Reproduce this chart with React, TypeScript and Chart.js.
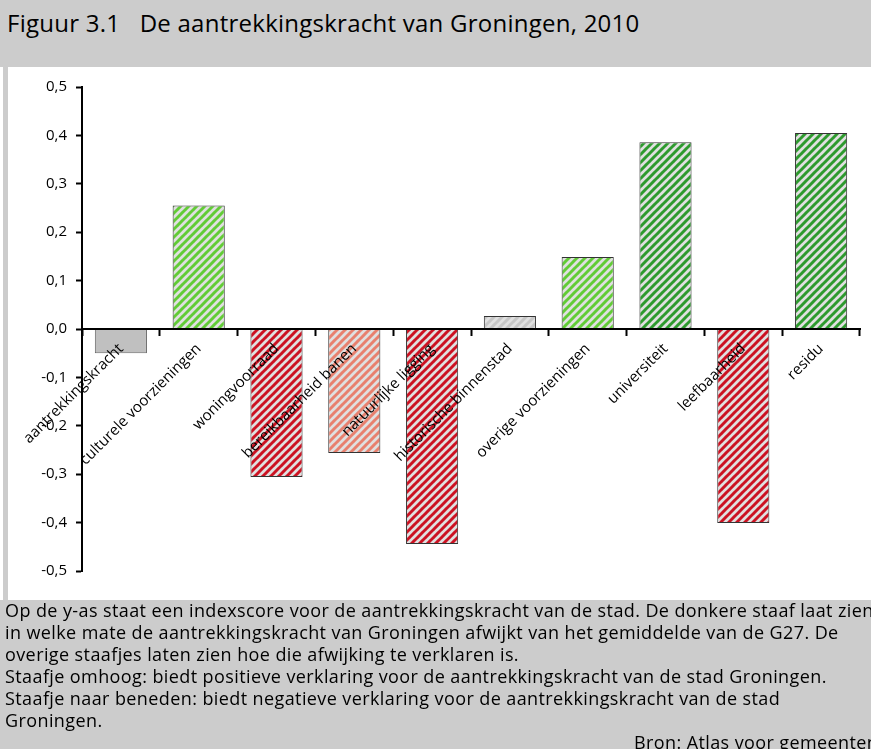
import React, { useEffect, useRef } from 'react';
import { Chart, registerables } from 'chart.js';

Chart.register(...registerables);

const categories = [
  'aantrekkingskracht',
  'culturele voorzieningen',
  'woningvoorraad',
  'bereikbaarheid banen',
  'natuurlijke ligging',
  'historische binnenstad',
  'overige voorzieningen',
  'universiteit',
  'leefbaarheid',
  'residu',
];

const values = [-0.05, 0.255, -0.306, -0.256, -0.444, 0.027, 0.149, 0.386, -0.401, 0.405];

const yMin = -0.5;
const yMax = 0.5;
const yStep = 0.1;

const titleText = 'Figuur 3.1\u00a0\u00a0\u00a0De aantrekkingskracht van Groningen, 2010';

const noteLines = [
  'Op de y-as staat een indexscore voor de aantrekkingskracht van de stad. De donkere staaf laat zien',
  'in welke mate de aantrekkingskracht van Groningen afwijkt van het gemiddelde van de G27. De',
  'overige staafjes laten zien hoe die afwijking te verklaren is.',
  'Staafje omhoog: biedt positieve verklaring voor de aantrekkingskracht van de stad Groningen.',
  'Staafje naar beneden: biedt negatieve verklaring voor de aantrekkingskracht van de stad',
  'Groningen.',
];
const sourceText = 'Bron: Atlas voor gemeenten';

// styles (one per bar): null = solid grey, otherwise the stripe colour
const stripeColors: (string | null)[] = [
  null,
  '#62cc36',
  '#cc1222',
  '#e8806e',
  '#cc1222',
  '#c6c6c6',
  '#62cc36',
  '#2e9a2e',
  '#cc1222',
  '#2e9a2e',
];

const FONT = '"Open Sans", "Noto Sans", sans-serif';

function makeHatch(ctx: CanvasRenderingContext2D, stripe: string) {
  const s = 8;
  const c = document.createElement('canvas');
  c.width = s;
  c.height = s;
  const g = c.getContext('2d')!;
  g.fillStyle = '#e0e0e0';
  g.fillRect(0, 0, s, s);
  g.strokeStyle = stripe;
  g.lineWidth = 3;
  for (const t of [-s, 0, s]) {
    g.beginPath();
    g.moveTo(t - 1, s + 1);
    g.lineTo(t + s + 1, -1);
    g.stroke();
  }
  return ctx.createPattern(c, 'repeat') as CanvasPattern;
}

const CW = 863;
const CH = 533;

export default function App() {
  const ref = useRef<HTMLCanvasElement | null>(null);

  useEffect(() => {
    document.body.style.margin = '0';
    const canvas = ref.current!;
    const ctx = canvas.getContext('2d')!;
    const fills = stripeColors.map((c) => (c ? makeHatch(ctx, c) : '#c0c0c0'));
    const borders = stripeColors.map((c) => (c ? '#333333' : '#666666'));

    const chart = new Chart(canvas, {
      type: 'bar',
      data: {
        labels: categories,
        datasets: [
          {
            data: values,
            backgroundColor: fills as any,
            borderColor: borders,
            borderWidth: 1,
            barPercentage: 0.67,
            categoryPercentage: 1,
          },
        ],
      },
      options: {
        responsive: false,
        animation: false,
        devicePixelRatio: 1,
        layout: { padding: { left: 0, top: 20, right: 11, bottom: 29 } },
        plugins: {
          legend: { display: false },
          tooltip: { enabled: false },
          title: { display: false },
        },
        scales: {
          x: {
            position: { y: 0 } as any,
            afterFit: (scale: any) => {
              scale.height = 0;
            },
            grid: {
              drawOnChartArea: false,
              drawTicks: true,
              tickLength: 6,
              tickWidth: 2,
              color: '#000000',
              offset: true,
              z: 1,
            } as any,
            border: { display: true, color: '#000000', width: 2, z: 1 } as any,
            ticks: {
              autoSkip: false,
              maxRotation: 45,
              minRotation: 45,
              padding: 5,
              z: 1,
              color: '#000000',
              font: { family: FONT, size: 15 },
            },
          },
          y: {
            min: yMin,
            max: yMax,
            afterFit: (scale: any) => {
              scale.width = 74;
            },
            grid: {
              drawOnChartArea: false,
              drawTicks: true,
              tickLength: 6,
              tickWidth: 2,
              color: '#000000',
            },
            border: { display: true, color: '#000000', width: 2 },
            ticks: {
              stepSize: yStep,
              padding: 9,
              color: '#000000',
              font: { family: FONT, size: 15 },
              callback: (v: any) => Number(v).toFixed(1).replace('.', ','),
            },
          },
        },
      },
    });
    return () => chart.destroy();
  }, []);

  return (
    <div
      style={{
        position: 'relative',
        width: 871,
        height: 749,
        background: '#cccccc',
        overflow: 'hidden',
        fontFamily: FONT,
        color: '#000',
      }}
    >
      <div
        style={{
          position: 'absolute',
          left: 7,
          top: 8,
          fontSize: 24,
          letterSpacing: '0.25px',
          lineHeight: '30px',
          whiteSpace: 'nowrap',
        }}
      >
        {titleText}
      </div>
      <div style={{ position: 'absolute', left: 0, top: 67, width: 3, height: 533, background: '#ffffff' }} />
      <div style={{ position: 'absolute', left: 8, top: 67, width: CW, height: CH, background: '#ffffff' }}>
        <canvas ref={ref} width={CW} height={CH} style={{ display: 'block', width: CW, height: CH }} />
      </div>
      <div
        style={{
          position: 'absolute',
          left: 5,
          top: 599,
          fontSize: 18,
          letterSpacing: '0.4px',
          lineHeight: '22px',
          whiteSpace: 'nowrap',
        }}
      >
        {noteLines.map((l, i) => (
          <div key={i}>{l}</div>
        ))}
      </div>
      <div
        style={{
          position: 'absolute',
          left: 634,
          top: 731,
          fontSize: 18,
          letterSpacing: '0.4px',
          lineHeight: '22px',
          whiteSpace: 'nowrap',
        }}
      >
        {sourceText}
      </div>
    </div>
  );
}
